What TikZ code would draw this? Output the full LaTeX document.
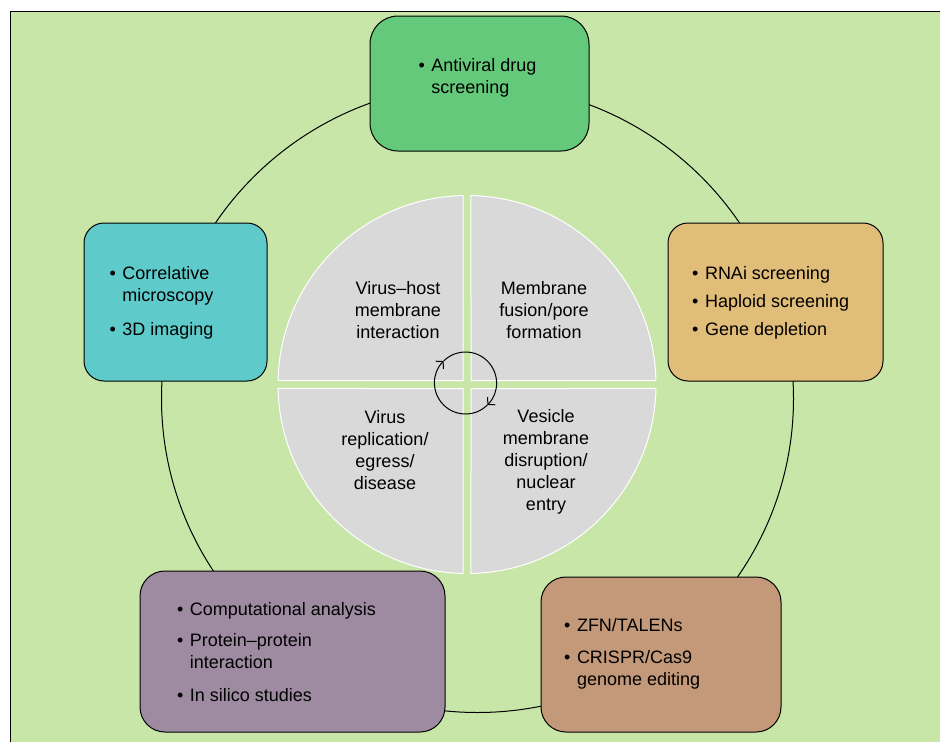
\documentclass[tikz,border=0pt]{standalone}
\usepackage{fontspec}
\setmainfont{Liberation Sans}
\usepackage{tikz}
\usetikzlibrary{calc, positioning, arrows.meta}

\definecolor{bgGreen}{RGB}{200,230,168}
\definecolor{drugGreen}{RGB}{100,201,122}
\definecolor{microCyan}{RGB}{95,202,202}
\definecolor{screenTan}{RGB}{224,189,120}
\definecolor{compPurple}{RGB}{158,139,162}
\definecolor{editBrown}{RGB}{196,153,122}
\definecolor{pieGray}{RGB}{217,217,217}

\newcommand{\boxfont}{\fontsize{18}{21.5}\selectfont}
\newcommand{\bitems}[1]{\begin{tabular}[t]{@{}l@{\hspace{6.5pt}}l@{}}#1\end{tabular}}

\begin{document}
\begin{tikzpicture}[x=1pt, y=-1pt,
    box/.style={draw, line width=1pt, inner sep=0pt},
    pie/.style={fill=pieGray, draw=white, line width=1pt},
    lst/.style={anchor=base west, inner sep=0pt, font=\boxfont},
    stage/.style={align=center, inner sep=0pt, font=\fontsize{18}{22}\selectfont},
    cyc/.style={line width=1pt, -{Straight Barb[length=5pt,width=11pt]}}]
    \useasboundingbox (0,0) rectangle (940,742);
    % panel, border only on top and left
    \fill[white] (0,0) rectangle (940,742);
    \fill[bgGreen] (10,11) rectangle (940,742);
    \draw[line width=1pt] (10,742) -- (10,11) -- (940,11);

    % outer ring behind the boxes
    \draw[line width=1pt] (477.5,398.5) ellipse [x radius=316, y radius=314];

    % method boxes
    \node[box, fill=drugGreen, rounded corners=28pt, minimum width=219pt, minimum height=135pt] (drug) at (479.5,83.5) {};
    \node[box, fill=microCyan, rounded corners=20pt, minimum width=183pt, minimum height=158pt] (micro) at (175.5,302) {};
    \node[box, fill=screenTan, rounded corners=20pt, minimum width=215pt, minimum height=158pt] (screen) at (775.5,302) {};
    \node[box, fill=compPurple, rounded corners=25pt, minimum width=305pt, minimum height=161pt] (comp) at (292.5,651.5) {};
    \node[box, fill=editBrown, rounded corners=25pt, minimum width=240pt, minimum height=155pt] (edit) at (661,654.5) {};

    \node[lst] (drugtxt) at (418.4,71.5) {\bitems{\textbullet & Antiviral drug\\ & screening}};
    \node[lst] (microtxt) at (109.4,279.5) {\bitems{\textbullet & Correlative\\ & microscopy\\[12.5pt] \textbullet & 3D imaging}};
    \node[lst] (screentxt) at (692,279.5) {\bitems{\textbullet & RNAi screening\\[6.5pt] \textbullet & Haploid screening\\[6.5pt] \textbullet & Gene depletion}};
    \node[lst] (comptxt) at (176.8,615.5) {\bitems{\textbullet & Computational analysis\\[9.5pt] \textbullet & Protein–protein\\ & interaction\\[11.5pt] \textbullet & In silico studies}};
    \node[lst] (edittxt) at (564,631.5) {\bitems{\textbullet & ZFN/TALENs\\[10.5pt] \textbullet & CRISPR/Cas9\\ & genome editing}};

    % inner circle split in four
    \coordinate (mid) at (467,384.5);
    \filldraw[pie] (471,380.5) -- ($(mid)+(-88.79:189)$) arc[start angle=-88.79, end angle=-1.21, radius=189] -- cycle;
    \filldraw[pie] (463,380.5) -- ($(mid)+(181.21:189)$) arc[start angle=181.21, end angle=268.79, radius=189] -- cycle;
    \filldraw[pie] (463,388.5) -- ($(mid)+(91.21:189)$) arc[start angle=91.21, end angle=178.79, radius=189] -- cycle;
    \filldraw[pie] (471,388.5) -- ($(mid)+(1.21:189)$) arc[start angle=1.21, end angle=88.79, radius=189] -- cycle;

    \node[stage] (attach) at (398,310.5) {Virus–host\\membrane\\interaction};
    \node[stage] (fusion) at (544,310.5) {Membrane\\fusion/pore\\formation};
    \node[stage] (release) at (385,450) {Virus\\replication/\\egress/\\disease};
    \node[stage] (entry) at (546,462) {Vesicle\\membrane\\disruption/\\nuclear\\entry};

    % small cycle in the middle
    \coordinate (loop) at (465.5,383);
    \draw[cyc] ($(loop)+(45:31)$) arc[start angle=45, end angle=225, radius=31];
    \draw[cyc] ($(loop)+(225:31)$) arc[start angle=225, end angle=405, radius=31];
\end{tikzpicture}
\end{document}
